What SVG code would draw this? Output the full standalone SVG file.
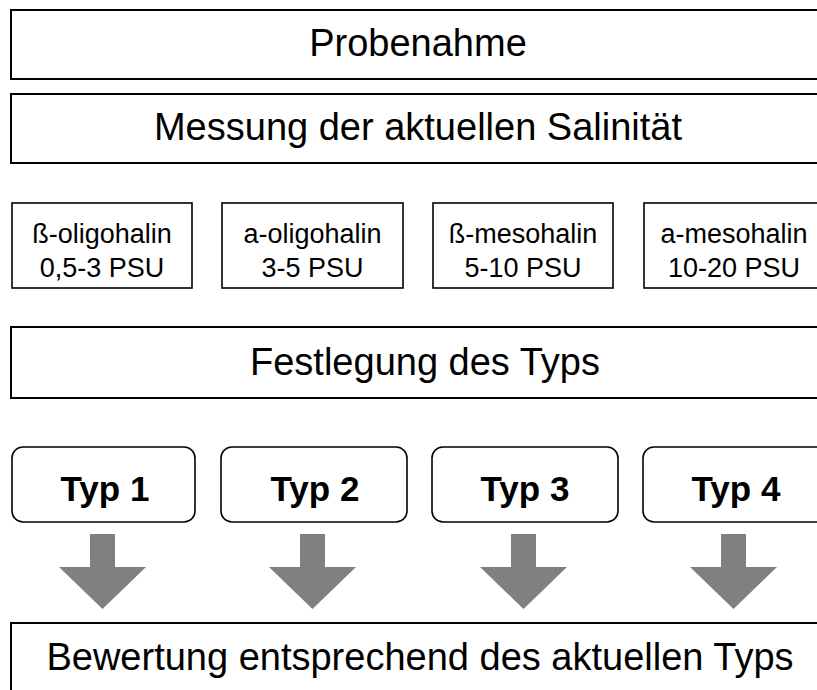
<svg xmlns="http://www.w3.org/2000/svg" width="817" height="690" viewBox="0 0 817 690">
<style>
.big{fill:#fff;stroke:#000;stroke-width:2}
.sal{fill:#fff;stroke:#000;stroke-width:1.6}
.typ{fill:#fff;stroke:#000;stroke-width:1.6}
.t{font-family:"Liberation Sans",Arial,sans-serif;fill:#000;text-anchor:middle}
.tl{font-size:38px}
.ts{font-size:27px}
.tb{font-size:35px;font-weight:bold}
.arr{fill:#808080}
</style>
<rect width="817" height="690" fill="#fff"/>
<g id="probenahme"><rect class="big" x="11" y="10" width="813" height="69"/><text class="t tl" x="418" y="56">Probenahme</text></g>
<g id="messung"><rect class="big" x="11" y="94" width="813" height="69"/><text class="t tl" x="418" y="140">Messung der aktuellen Salinität</text></g>
<g id="sal1"><rect class="sal" x="12" y="203" width="180" height="85"/><text class="t ts" x="102" y="243">ß-oligohalin</text><text class="t ts" x="102" y="277">0,5-3 PSU</text></g>
<g id="sal2"><rect class="sal" x="222" y="203" width="181" height="85"/><text class="t ts" x="312.5" y="243">a-oligohalin</text><text class="t ts" x="312.5" y="277">3-5 PSU</text></g>
<g id="sal3"><rect class="sal" x="433" y="203" width="180" height="85"/><text class="t ts" x="523" y="243">ß-mesohalin</text><text class="t ts" x="523" y="277">5-10 PSU</text></g>
<g id="sal4"><rect class="sal" x="644" y="203" width="180" height="85"/><text class="t ts" x="734" y="243">a-mesohalin</text><text class="t ts" x="734" y="277">10-20 PSU</text></g>
<g id="festlegung"><rect class="big" x="11" y="327" width="813" height="71"/><text class="t tl" x="425" y="375">Festlegung des Typs</text></g>
<g id="typ1"><rect class="typ" x="12" y="447" width="183" height="75" rx="11"/><text class="t tb" x="105" y="501">Typ 1</text></g>
<g id="typ2"><rect class="typ" x="221" y="447" width="186" height="75" rx="11"/><text class="t tb" x="315" y="501">Typ 2</text></g>
<g id="typ3"><rect class="typ" x="432" y="447" width="186" height="75" rx="11"/><text class="t tb" x="525" y="501">Typ 3</text></g>
<g id="typ4"><rect class="typ" x="643" y="447" width="186" height="75" rx="11"/><text class="t tb" x="736" y="501">Typ 4</text></g>
<g id="connectors">
<path class="arr" d="M90 534h25v33h31l-43.5 42l-43.5-42h31z"/>
<path class="arr" d="M300 534h25v33h31l-43.5 42l-43.5-42h31z"/>
<path class="arr" d="M511 534h25v33h31l-43.5 42l-43.5-42h31z"/>
<path class="arr" d="M721 534h25v33h31l-43.5 42l-43.5-42h31z"/>
</g>
<g id="bewertung"><rect class="big" x="11" y="623" width="813" height="80"/><text class="t tl" x="420" y="670">Bewertung entsprechend des aktuellen Typs</text></g>
</svg>
